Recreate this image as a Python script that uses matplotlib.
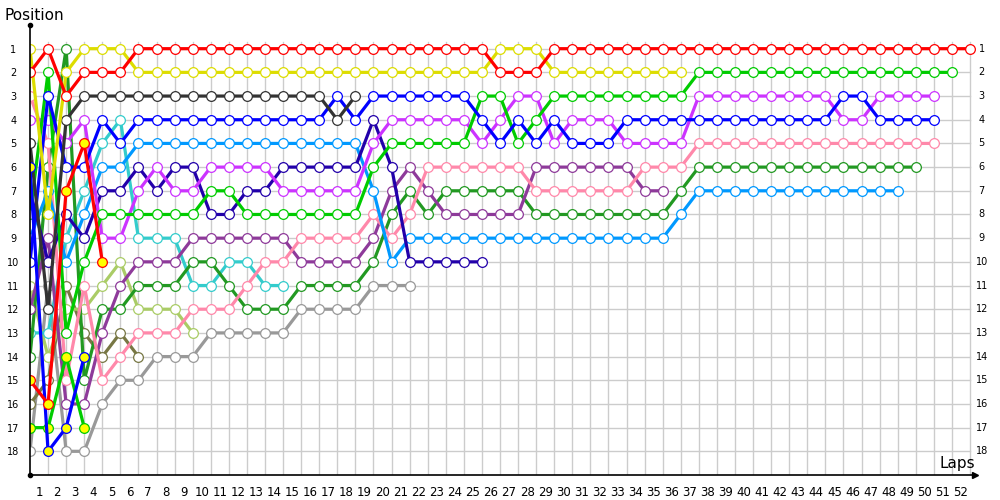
import numpy as np
import matplotlib
matplotlib.use("Agg")
import matplotlib.pyplot as plt

laps_total = 52
n_positions = 18

# positions per lap, starting at lap 0 (grid)
red = [2,1,3,2,2,2, 1,1,1,1,1,1,1,1,1,1,1,1,1,1,1,1,1,1,1,1, 2,2,2,
       1,1,1,1,1,1,1,1,1,1,1,1,1,1,1,1,1,1,1,1,1,1,1,1]
yellow = [1,8,2,1,1,1, 2,2,2,2,2,2,2,2,2,2,2,2,2,2,2,2,2,2,2,2, 1,1,1, 2,2,2,2,2,2,2,2]
darkgray = [5,12,4, 3,3,3,3,3,3,3,3,3,3,3,3,3,3, 4,3]
blue = [10,3,6,6,4,5, 4,4,4,4,4,4,4,4,4,4,4, 3,4, 3,3,3,3,3,3, 4,5,4,5,4, 5,5,5,
        4,4,4,4,4,4,4,4,4,4,4,4, 3,3, 4,4,4,4]
lightblue = [9,7,10,8,6,6, 5,5,5,5,5,5,5,5,5,5,5,5,5, 7,10,
             9,9,9,9,9,9,9,9,9,9,9,9,9,9,9, 8, 7,7,7,7,7,7,7,7,7,7,7,7]
darkblue = [7,10,8,9,7,7,6,7,6,6,8,8,7,7, 6,6,6,6,6, 4,6, 10,10,10,10,10]
violet = [4,4,5,4,9,9,7,6,7,7, 6,6,6,6, 7,7,7,7,7, 5, 4,4,4,4,4, 5,4,3,3,5, 4,4,4,
          5,5,5,5, 3,3,3,3,3,3,3,3, 4,4, 3,3,3,3]
brightgreen = [8,2,13,10, 8,8,8,8,8,8, 7,7, 8,8,8,8,8,8,8, 6, 5,5,5,5,5, 3,3,5,4,
               3,3,3,3,3,3,3,3, 2,2,2,2,2,2,2,2,2,2,2,2,2,2,2]
pink = [3,5,15,11,15,14, 13,13,13, 12,12,12, 11,10,10, 9,9,9,9, 8,9,8,
        6,6,6,6,6,6, 7,7,7,7,7,7, 6,6,6, 5,5,5,5,5,5,5,5,5,5,5,5,5,5]
purple = [12,9,16,16,13,11, 10,10,10, 9,9,9,9,9,9, 10,10,10,10, 9,7,6,7,
          8,8,8,8,8, 6,6,6,6,6,6, 7,7]
forestgreen = [14,6,1,15,12,12, 11,11,11, 10,10,11, 12,12,12, 11,11,11,11, 10,8,7,8,
               7,7,7,7,7, 8,8,8,8,8,8,8,8, 7, 6,6,6,6,6,6,6,6,6,6,6,6,6]
cyan = [13,13,9,7,5,4,9,9,9,11,11,10,10,11,11]
lightgreen = [11,14,12,12,11,10,12,12,12,13]
olive = [16,15,11,13,14,13,14]
gray = [18,11,18,18,16,15,15,14,14,14,13,13,13,13,13,12,12,12,12,11,11,11]
red_b = [15,16,7,5,10]
blue_b = [6,18,17,14]
green_b = [17,17,14,17]

series = [
    (gray, "#999999", "white"),
    (olive, "#777744", "white"),
    (lightgreen, "#aacc66", "white"),
    (cyan, "#33cccc", "white"),
    (forestgreen, "#229922", "white"),
    (purple, "#8e3a9a", "white"),
    (pink, "#ff88aa", "white"),
    (lightblue, "#0099ff", "white"),
    (darkblue, "#2200aa", "white"),
    (violet, "#cc33ff", "white"),
    (brightgreen, "#00cc00", "white"),
    (blue, "#0000ff", "white"),
    (darkgray, "#333333", "white"),
    (green_b, "#00cc00", "#ffff00"),
    (blue_b, "#0000ff", "#ffff00"),
    (red_b, "#ff0000", "#ffff00"),
    (yellow, "#dddd00", "white"),
    (red, "#ff0000", "white"),
]

fig = plt.figure(figsize=(10, 5), dpi=100)
ax = fig.add_axes([0.03, 0.05, 0.9454, 0.90])
ax.set_xlim(0, 52.3)
ax.set_ylim(19, 0)

# grid
for n in range(1, laps_total + 1):
    ax.plot([n, n], [0.7, 19], color="#cccccc", lw=1, zorder=0)
for p in range(1, n_positions + 1):
    ax.plot([0, laps_total], [p, p], color="#cccccc", lw=1, zorder=0)

for vals, col, face in series:
    x = np.arange(len(vals))
    ax.plot(x, vals, color=col, lw=2.3, solid_joinstyle="miter", zorder=2,
            marker="o", markersize=7, markerfacecolor=face,
            markeredgecolor=col, markeredgewidth=0.9)

for s in ["top", "right"]:
    ax.spines[s].set_visible(False)
ax.spines["left"].set_linewidth(1.2)
ax.spines["bottom"].set_linewidth(1.2)

# axis end markers
ax.plot([0], [0], marker="o", color="black", markersize=3, clip_on=False, zorder=5)
ax.plot([0], [19], marker="o", color="black", markersize=3, clip_on=False, zorder=5)
ax.plot([52.3], [19], marker=">", color="black", markersize=5, clip_on=False, zorder=5)

ax.set_xticks([n - 0.5 for n in range(1, laps_total + 1)])
ax.set_xticklabels([str(n) for n in range(1, laps_total + 1)], fontsize=8.5)
ax.tick_params(axis="x", length=0, pad=8)

ax.set_yticks(range(1, n_positions + 1))
ax.set_yticklabels([str(p) for p in range(1, n_positions + 1)], fontsize=7)
for lab in ax.get_yticklabels():
    lab.set_horizontalalignment("center")
ax.tick_params(axis="y", length=0, pad=12)
for p in range(1, n_positions + 1):
    ax.text(52.65, p, str(p), fontsize=7, ha="center", va="center")

fig.text(0.004, 0.985, "Position", fontsize=11, ha="left", va="top")
fig.text(0.975, 0.058, "Laps", fontsize=11, ha="right", va="bottom")

fig.savefig("out.png", dpi=100)
